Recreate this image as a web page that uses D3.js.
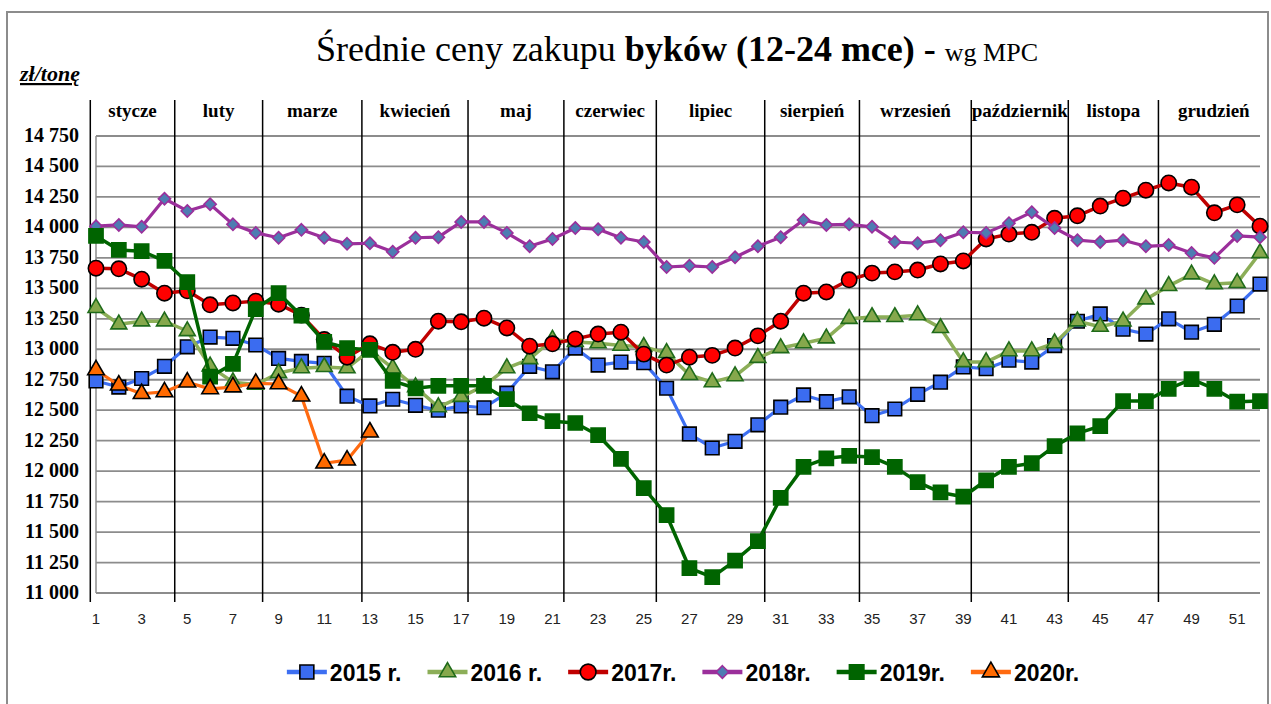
<!DOCTYPE html>
<html>
<head>
<meta charset="utf-8">
<style>
  body { margin:0; background:#fff; }
  svg { display:block; }
</style>
</head>
<body>
<script src="https://d3js.org/d3.v7.min.js"></script>
<svg width="1271" height="704"></svg>
<script>
// --- data ---
var weeks = d3.range(1, 53);
var xTicks = d3.range(1, 52, 2);
var yTicks = d3.range(11000, 14751, 250);

var months = ["stycze", "luty", "marze", "kwiecień", "maj", "czerwiec", "lipiec",
              "sierpień", "wrzesień", "październik", "listopa", "grudzień"];
// month borders, in week units
var monthBounds = [0.75, 4.45, 8.3, 12.65, 17.3, 21.5, 25.55, 30.3, 34.45, 39.35, 43.6, 47.55, 52.4];

var s2015 = [12740,12690,12760,12860,13020,13100,13090,13035,12925,12900,12885,12615,12535,12590,12540,12500,
             12535,12520,12640,12860,12815,13010,12870,12895,12890,12680,12305,12190,12245,12380,12525,12625,
             12570,12610,12455,12510,12630,12730,12855,12840,12910,12895,13030,13230,13290,13165,13125,13250,
             13140,13205,13355,13535];
var s2016 = [13340,13205,13230,13230,13150,12860,12730,12710,12805,12845,12855,12845,12990,12845,12690,12525,
             12610,12700,12845,12920,13080,13060,13050,13030,13020,12970,12790,12730,12780,12930,13010,13050,
             13090,13250,13265,13265,13280,13175,12895,12895,12985,12985,13050,13230,13185,13230,13410,13520,
             13615,13535,13545,13790];
var s2017 = [13665,13660,13575,13460,13480,13365,13380,13395,13370,13280,13080,12935,13045,12975,13000,13230,
             13225,13255,13175,13025,13045,13085,13125,13140,12960,12870,12935,12950,13010,13110,13230,13460,
             13470,13570,13625,13635,13650,13700,13725,13905,13945,13960,14075,14095,14175,14240,14305,14365,
             14330,14120,14185,14010];
var s2018 = [14010,14020,14005,14235,14135,14190,14025,13955,13915,13980,13915,13865,13870,13800,13915,13920,
             14045,14045,13955,13845,13905,13995,13985,13915,13880,13675,13685,13675,13755,13845,13920,14060,
             14020,14025,14005,13880,13870,13895,13960,13955,14035,14125,13995,13895,13880,13895,13845,13855,
             13790,13750,13930,13920];
var s2019 = [13930,13815,13805,13725,13550,12775,12880,13330,13460,13275,13060,13010,12995,12740,12680,12700,
             12700,12700,12590,12475,12410,12395,12295,12100,11860,11640,11205,11130,11265,11425,11780,12035,
             12105,12125,12115,12035,11910,11825,11790,11925,12035,12065,12205,12310,12370,12575,12575,12675,
             12755,12675,12570,12575];
var s2020 = [12830,12705,12635,12650,12730,12675,12690,12720,12715,12615,12065,12090,12320];

var seriesNames = ["2015 r.", "2016 r.", "2017r.", "2018r.", "2019r.", "2020r."];
var seriesValues = [s2015, s2016, s2017, s2018, s2019, s2020];

// --- styles ---
var styles = [
  {line:"#3d6ff2", fill:"#3b6cf0", stroke:"#000",    sym:d3.symbolSquare,   size:185, lw:3.2},
  {line:"#8cae58", fill:"#86a84c", stroke:"#1f6b1a", sym:d3.symbolTriangle, size:110, lw:3.5},
  {line:"#c00000", fill:"#ff0000", stroke:"#000",    sym:d3.symbolCircle,   size:185, lw:3.5},
  {line:"#9b2f9b", fill:"#4e7cb2", stroke:"#9b2f9b", sym:d3.symbolDiamond2, size:95,  lw:3.2},
  {line:"#006400", fill:"#006400", stroke:"#006400", sym:d3.symbolSquare,   size:200, lw:3.5},
  {line:"#ff6a10", fill:"#ff6a00", stroke:"#000",    sym:d3.symbolTriangle, size:120, lw:3.2}
];

var svg = d3.select("svg");
var x = d3.scaleLinear().domain([1, 52]).range([96, 1260]);
var y = d3.scaleLinear().domain([11000, 14750]).range([593, 136]);
var fmt = d3.formatLocale({decimal: ",", thousands: " ", grouping: [3], currency: ["", ""]}).format(",");

// outer frame
svg.append("rect").attr("x", 7).attr("y", 12).attr("width", 1261).attr("height", 720)
  .attr("fill", "none").attr("stroke", "#8c8c8c").attr("stroke-width", 2);

// title
var title = svg.append("text").attr("x", 677).attr("y", 61).attr("text-anchor", "middle")
  .style("font-family", "'Liberation Serif', serif").style("font-size", "36px").attr("fill", "#000");
title.append("tspan").text("Średnie ceny zakupu ");
title.append("tspan").style("font-weight", "bold").text("byków (12-24 mce) - ");
title.append("tspan").style("font-size", "26px").text("wg MPC");

svg.append("text").attr("x", 20).attr("y", 81)
  .style("font-family", "'Liberation Serif', serif").style("font-size", "22px")
  .style("font-weight", "bold").style("font-style", "italic").style("text-decoration", "underline")
  .text("zł/tonę");

// gridlines
svg.append("g").selectAll("line").data(yTicks).enter().append("line")
  .attr("x1", x(1)).attr("x2", x(52)).attr("y1", d => y(d)).attr("y2", d => y(d))
  .attr("stroke", "#8c8c8c").attr("stroke-width", 1.8);
svg.append("line").attr("x1", x(1)).attr("x2", x(1)).attr("y1", y(14750)).attr("y2", y(11000))
  .attr("stroke", "#8c8c8c").attr("stroke-width", 1.5);

// y labels
svg.append("g").selectAll("text").data(yTicks).enter().append("text")
  .attr("x", 79).attr("y", d => y(d) + 6).attr("text-anchor", "end")
  .style("font-family", "'Liberation Serif', serif").style("font-size", "20px").style("font-weight", "bold")
  .text(d => fmt(d));

// x labels
svg.append("g").selectAll("text").data(xTicks).enter().append("text")
  .attr("x", d => x(d)).attr("y", 624).attr("text-anchor", "middle")
  .style("font-family", "'Liberation Sans', sans-serif").style("font-size", "15px").attr("fill", "#222")
  .text(d => d);

// month separators and labels
svg.append("g").selectAll("line").data(monthBounds.slice(0, 12)).enter().append("line")
  .attr("x1", d => x(d)).attr("x2", d => x(d)).attr("y1", 100).attr("y2", 602)
  .attr("stroke", "#000").attr("stroke-width", 1.5);
svg.append("g").selectAll("text").data(months).enter().append("text")
  .attr("x", (d, i) => (x(monthBounds[i]) + x(monthBounds[i + 1])) / 2).attr("y", 117)
  .attr("text-anchor", "middle")
  .style("font-family", "'Liberation Serif', serif").style("font-size", "19px").style("font-weight", "bold")
  .text(d => d);

// series
var line = d3.line().x((d, i) => x(weeks[i])).y(d => y(d));
seriesValues.forEach(function(vals, k) {
  var st = styles[k];
  var g = svg.append("g");
  g.append("path").attr("d", line(vals)).attr("fill", "none")
    .attr("stroke", st.line).attr("stroke-width", st.lw).attr("stroke-linejoin", "round");
  g.selectAll("path.m").data(vals).enter().append("path").attr("class", "m")
    .attr("d", d3.symbol().type(st.sym).size(st.size))
    .attr("transform", (d, i) => "translate(" + x(weeks[i]) + "," + y(d) + ")")
    .attr("fill", st.fill).attr("stroke", st.stroke).attr("stroke-width", 1.6);
});

// legend
var leg = svg.append("g");
var items = leg.selectAll("g").data(seriesNames).enter().append("g");
items.append("line").attr("x1", 0).attr("x2", 40).attr("y1", 0).attr("y2", 0)
  .attr("stroke", (d, i) => styles[i].line).attr("stroke-width", 4.5);
items.append("path").attr("d", (d, i) => d3.symbol().type(styles[i].sym).size(styles[i].size * 1.05)())
  .attr("transform", "translate(20,0)")
  .attr("fill", (d, i) => styles[i].fill).attr("stroke", (d, i) => styles[i].stroke).attr("stroke-width", 1.6);
items.append("text").attr("x", 43).attr("y", 8.5)
  .style("font-family", "'Liberation Sans', Arial, sans-serif").style("font-size", "23px").style("font-weight", "bold")
  .text(d => d);
var pos = 0, offs = [];
items.each(function() {
  offs.push(pos);
  pos += 43 + this.querySelector("text").getComputedTextLength() + 26;
});
var start = 683 - (pos - 26) / 2;
items.attr("transform", (d, i) => "translate(" + (start + offs[i]) + ",672)");
</script>
</body>
</html>
